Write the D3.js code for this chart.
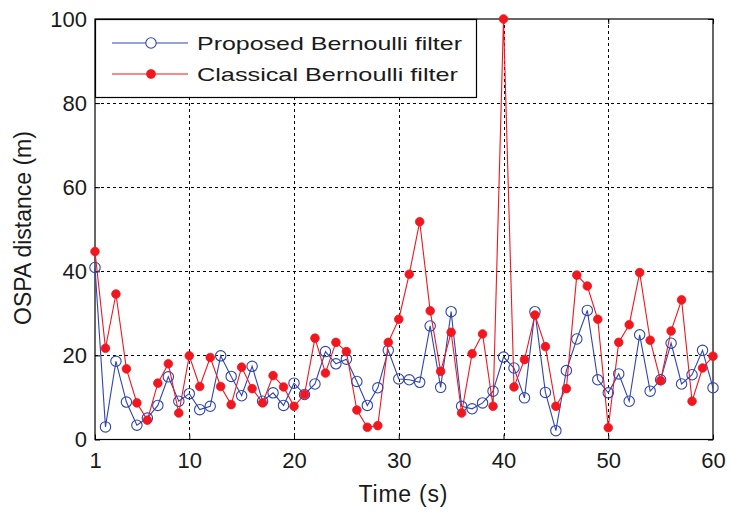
<!DOCTYPE html>
<html>
<head>
<meta charset="utf-8">
<script src="https://cdn.jsdelivr.net/npm/d3@7"></script>
<style>
  html, body { margin: 0; padding: 0; background: #fff; }
  svg { display: block; font-family: "Liberation Sans", Arial, sans-serif; }
</style>
</head>
<body>
<svg id="chart" width="732" height="512"></svg>
<script>
// OSPA distance per time step (s = 1..60)
const timeSteps = d3.range(1, 61);
const proposed = [
  40.9, 3.0, 18.6, 8.9, 3.4, 5.1, 8.1, 14.9, 9.1, 10.9,
  7.1, 7.9, 19.9, 15.0, 10.4, 17.4, 9.1, 11.1, 8.1, 13.4,
  10.7, 13.2, 20.9, 18.0, 19.1, 13.8, 8.1, 12.3, 21.2, 14.4,
  14.2, 13.6, 27.0, 12.4, 30.4, 7.9, 7.3, 8.7, 11.5, 19.6,
  17.0, 9.9, 30.4, 11.2, 2.1, 16.4, 23.9, 30.7, 14.2, 11.1,
  15.6, 9.1, 24.9, 11.5, 14.2, 22.9, 13.2, 15.4, 21.2, 12.3
];
const classical = [
  44.7, 21.7, 34.6, 16.8, 8.7, 4.6, 13.4, 18.0, 6.3, 19.9,
  12.6, 19.5, 12.6, 8.3, 17.2, 12.1, 8.7, 15.2, 12.5, 7.9,
  10.7, 24.1, 15.8, 23.1, 20.9, 7.0, 2.9, 3.3, 23.1, 28.6,
  39.3, 51.8, 30.6, 16.2, 25.5, 6.3, 20.4, 25.1, 7.9, 100,
  12.5, 19.0, 29.6, 22.1, 7.9, 12.1, 39.1, 36.5, 28.6, 2.8,
  23.1, 27.3, 39.7, 23.6, 14.0, 25.8, 33.2, 9.1, 17.0, 19.8
];
const xTicks = [1, 10, 20, 30, 40, 50, 60];
const yTicks = [0, 20, 40, 60, 80, 100];
const seriesNames = ["Proposed Bernoulli filter", "Classical Bernoulli filter"];

const blue = "#2f45b0";
const red = "#f2161e";
const textColor = "#1a1a1a";

const svg = d3.select("#chart");
const plotLeft = 95, plotRight = 713, plotTop = 19, plotBottom = 439.5;

const x = d3.scaleLinear().domain([1, 60]).range([plotLeft, plotRight]);
const y = d3.scaleLinear().domain([0, 100]).range([plotBottom, plotTop]);

// dotted grid
const grid = svg.append("g").attr("stroke", "#000").attr("stroke-width", 1)
  .attr("stroke-dasharray", "3,3").attr("shape-rendering", "crispEdges");
grid.selectAll("line.v").data(xTicks.filter(t => t !== 1 && t !== 60)).join("line")
  .attr("x1", d => Math.round(x(d)) + 0.5).attr("x2", d => Math.round(x(d)) + 0.5)
  .attr("y1", plotTop).attr("y2", plotBottom);
grid.selectAll("line.h").data(yTicks.filter(t => t !== 0 && t !== 100)).join("line")
  .attr("y1", d => Math.round(y(d)) + 0.5).attr("y2", d => Math.round(y(d)) + 0.5)
  .attr("x1", plotLeft).attr("x2", plotRight);

// axes with inward ticks
const xAxis = svg.append("g").attr("transform", `translate(0,${plotBottom})`)
  .call(d3.axisBottom(x).tickValues(xTicks).tickSizeInner(-5).tickSizeOuter(0).tickPadding(13));
const yAxis = svg.append("g").attr("transform", `translate(${plotLeft},0)`)
  .call(d3.axisLeft(y).tickValues(yTicks).tickSizeInner(-5).tickSizeOuter(0).tickPadding(8));
const xAxisTop = svg.append("g").attr("transform", `translate(0,${plotTop})`)
  .call(d3.axisTop(x).tickValues(xTicks).tickSizeInner(-5).tickSizeOuter(0).tickFormat(""));
const yAxisRight = svg.append("g").attr("transform", `translate(${plotRight},0)`)
  .call(d3.axisRight(y).tickValues(yTicks).tickSizeInner(-5).tickSizeOuter(0).tickFormat(""));
[xAxis, yAxis, xAxisTop, yAxisRight].forEach(g => {
  g.select(".domain").remove();
  g.selectAll("line").attr("stroke", "#000");
  g.selectAll("text").attr("font-size", 22).attr("fill", textColor)
    .attr("font-family", "'Liberation Sans', Arial, sans-serif");
});

// plot box
svg.append("rect").attr("x", plotLeft).attr("y", plotTop)
  .attr("width", plotRight - plotLeft).attr("height", plotBottom - plotTop)
  .attr("fill", "none").attr("stroke", "#000").attr("stroke-width", 1.2);

// series
const line = d3.line().x((d, i) => x(timeSteps[i])).y(d => y(d));
svg.append("path").datum(proposed).attr("d", line)
  .attr("fill", "none").attr("stroke", blue).attr("stroke-width", 1.1);
svg.append("path").datum(classical).attr("d", line)
  .attr("fill", "none").attr("stroke", red).attr("stroke-width", 1.1);

svg.append("g").selectAll("circle").data(proposed).join("circle")
  .attr("cx", (d, i) => x(timeSteps[i])).attr("cy", d => y(d)).attr("r", 5.2)
  .attr("fill", "none").attr("stroke", blue).attr("stroke-width", 1.1);
svg.append("g").selectAll("circle").data(classical).join("circle")
  .attr("cx", (d, i) => x(timeSteps[i])).attr("cy", d => y(d)).attr("r", 4.3)
  .attr("fill", red).attr("stroke", red).attr("stroke-width", 0.8);

// axis titles
svg.append("text").attr("x", 403).attr("y", 502).attr("text-anchor", "middle")
  .attr("font-size", 23).attr("fill", textColor).attr("textLength", 89)
  .text("Time (s)");
svg.append("text").attr("transform", "translate(31,228) rotate(-90)")
  .attr("text-anchor", "middle").attr("font-size", 23).attr("fill", textColor)
  .text("OSPA distance (m)");

// legend
const legend = svg.append("g");
legend.append("rect").attr("x", 95.5).attr("y", 19.5).attr("width", 381).attr("height", 78)
  .attr("fill", "#fff").attr("stroke", "#000").attr("stroke-width", 1.2);
const rows = [
  { name: seriesNames[0], color: blue, y: 43, open: true, len: 265 },
  { name: seriesNames[1], color: red, y: 74, open: false, len: 261 }
];
rows.forEach(r => {
  legend.append("line").attr("x1", 112).attr("x2", 188).attr("y1", r.y).attr("y2", r.y)
    .attr("stroke", r.color).attr("stroke-width", 1.1);
  legend.append("circle").attr("cx", 151).attr("cy", r.y).attr("r", r.open ? 5.2 : 4.3)
    .attr("fill", r.open ? "#fff" : r.color).attr("stroke", r.color).attr("stroke-width", 1.1);
  legend.append("text").attr("x", 197).attr("y", r.y + 7).attr("font-size", 19)
    .attr("fill", textColor).attr("textLength", r.len).attr("lengthAdjust", "spacingAndGlyphs")
    .text(r.name);
});
</script>
</body>
</html>
